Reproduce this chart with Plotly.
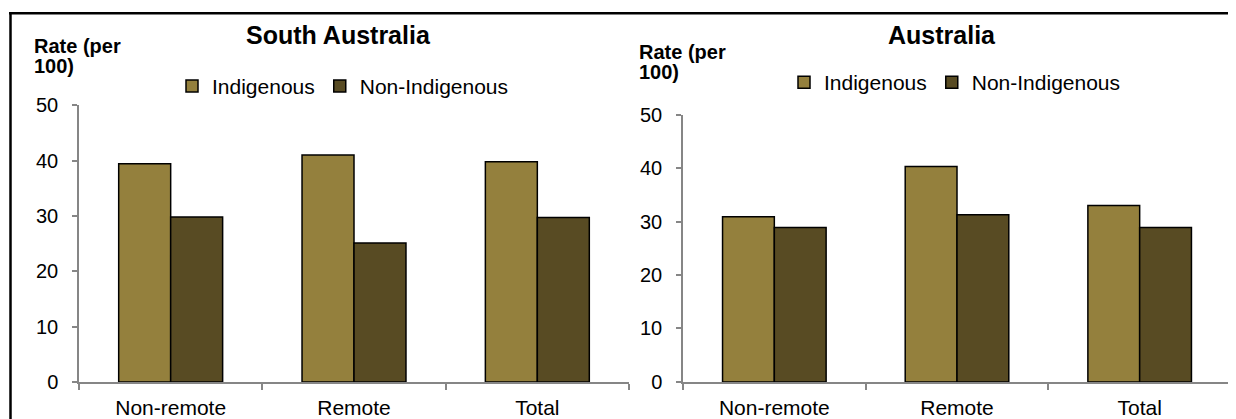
import plotly.graph_objects as go

# values
categories = ['Non-remote', 'Remote', 'Total']
sa_indigenous = [39.4, 41.0, 39.8]
sa_non_indigenous = [29.8, 25.1, 29.7]
aus_indigenous = [30.9, 40.3, 33.0]
aus_non_indigenous = [28.9, 31.3, 28.9]

W, H = 1228, 419
OFF = 8   # default body margin of the html page
col_ind = 'rgb(148,128,61)'
col_non = 'rgb(88,75,35)'
axis_grey = 'rgb(134,134,134)'
FONT = 'Liberation Sans, Arial, sans-serif'

def px(x):
    return (x - OFF) / W

def py(y):
    return 1 - (y - OFF) / H

fig = go.Figure()

series = [
    ('Indigenous', sa_indigenous, col_ind, 'x', 'y', 'legend'),
    ('Non-Indigenous', sa_non_indigenous, col_non, 'x', 'y', 'legend'),
    ('Indigenous', aus_indigenous, col_ind, 'x2', 'y2', 'legend2'),
    ('Non-Indigenous', aus_non_indigenous, col_non, 'x2', 'y2', 'legend2'),
]
for name, vals, col, xa, ya, lg in series:
    fig.add_trace(go.Bar(x=categories, y=vals, name=name, xaxis=xa, yaxis=ya, legend=lg,
                         marker=dict(color=col, line=dict(color='black', width=1.5))))

xaxis_style = dict(showline=True, linecolor=axis_grey, linewidth=1.5, ticks='outside',
                   tickson='boundaries', ticklen=6, tickcolor=axis_grey, tickwidth=1.5,
                   showgrid=False, tickfont=dict(size=21, color='black'),
                   ticklabelstandoff=6)
yaxis_style = dict(showline=True, linecolor=axis_grey, linewidth=1.5, ticks='outside',
                   ticklen=5, tickcolor=axis_grey, tickwidth=1.5, showgrid=False,
                   zeroline=False, range=[0, 50], dtick=10,
                   tickfont=dict(size=20, color='black'), ticklabelstandoff=10)

legend_style = dict(orientation='h', xanchor='left', yanchor='middle',
                    font=dict(size=21, color='black'), bgcolor='rgba(0,0,0,0)',
                    traceorder='normal')

fig.update_layout(
    width=W, height=H,
    margin=dict(l=0, r=0, t=0, b=0),
    paper_bgcolor='white', plot_bgcolor='white',
    font=dict(family=FONT, color='black'),
    barmode='group', bargap=0.433, bargroupgap=0,
    xaxis=dict(domain=[px(79), px(629)], anchor='y', **xaxis_style),
    yaxis=dict(domain=[py(391), py(99)], anchor='x', **yaxis_style),
    xaxis2=dict(domain=[px(683), px(1231)], anchor='y2', **xaxis_style),
    yaxis2=dict(domain=[py(391), py(109)], anchor='x2', **yaxis_style),
    legend=dict(x=px(172), y=py(79), **legend_style),
    legend2=dict(x=px(784), y=py(75), **legend_style),
    showlegend=True,
)

# subplot titles
for title, xc in [('South Australia', 338), ('Australia', 942)]:
    fig.add_annotation(text='<b>%s</b>' % title, x=px(xc), y=py(25), xref='paper', yref='paper',
                       showarrow=False, xanchor='center', yanchor='middle', font=dict(size=25))

# y-axis captions, one line at a time
for xl, y1 in [(32, 37), (637, 43)]:
    for txt, yy in [('Rate (per', y1), ('100)', y1 + 21)]:
        fig.add_annotation(text='<b>%s</b>' % txt, x=px(xl), y=py(yy), xref='paper', yref='paper',
                           showarrow=False, xanchor='left', yanchor='middle', align='left',
                           font=dict(size=20))

# outer frame: only top and left edges are inside the picture
fig.add_shape(type='line', xref='paper', yref='paper', x0=px(9), x1=1.02, y0=py(2), y1=py(2),
              line=dict(color='black', width=2.5), layer='above')
fig.add_shape(type='line', xref='paper', yref='paper', x0=px(10.5), x1=px(10.5), y0=py(1), y1=-0.05,
              line=dict(color='black', width=2.5), layer='above')

fig.write_html('out.html')
